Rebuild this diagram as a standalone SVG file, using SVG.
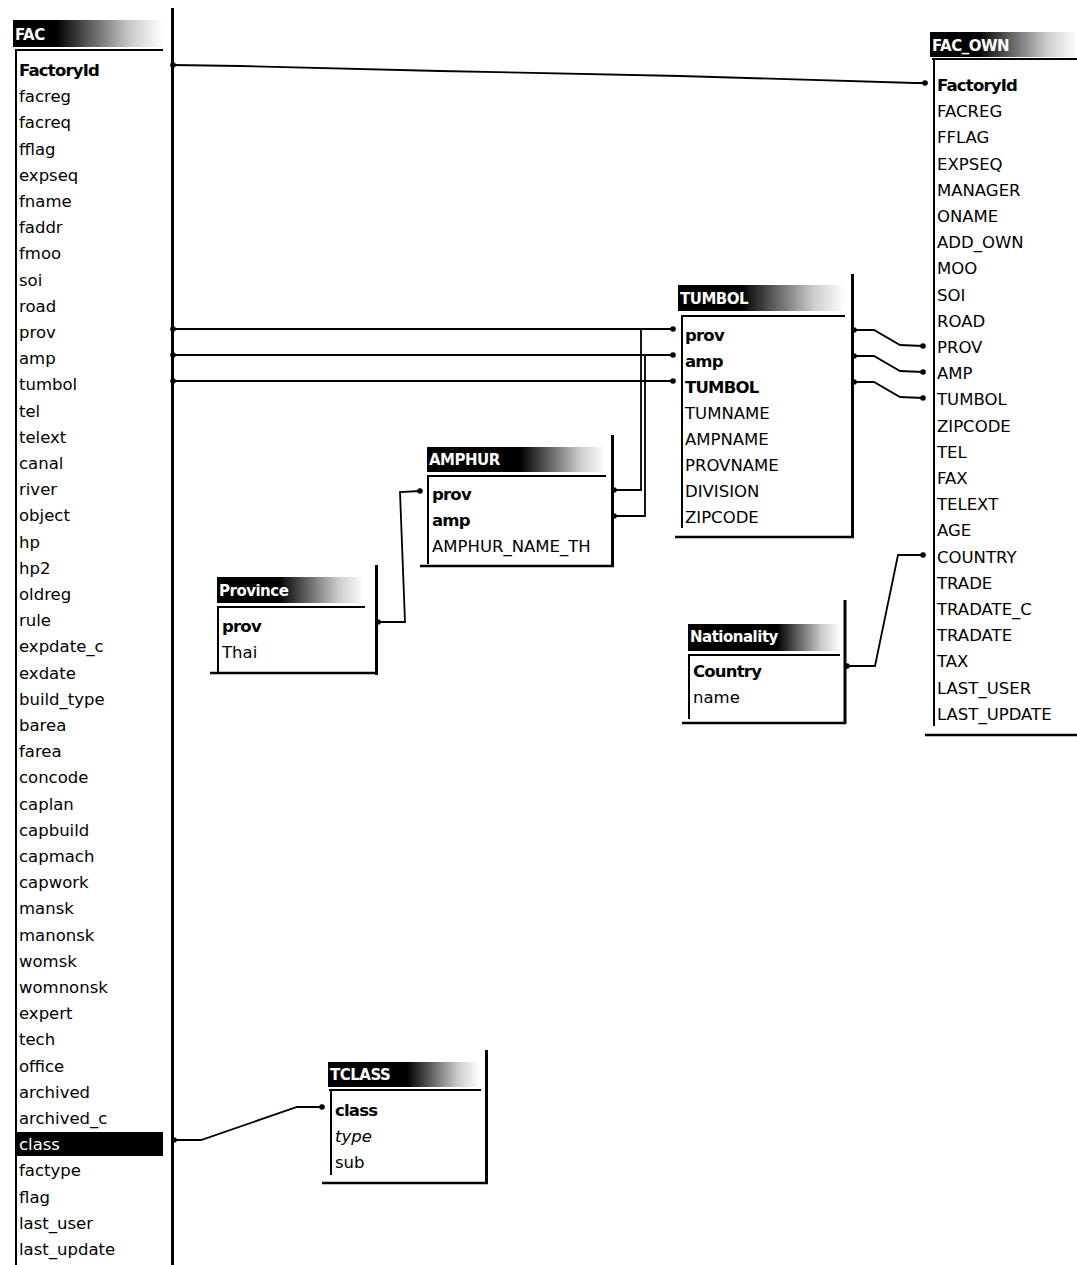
<svg xmlns="http://www.w3.org/2000/svg" width="1077" height="1265" viewBox="0 0 1077 1265">
<style>
.f{font-family:"DejaVu Sans","Liberation Sans",sans-serif;font-size:16.5px;fill:#000}
.b{font-weight:bold;letter-spacing:-0.8px}
.h{font-family:"DejaVu Sans","Liberation Sans",sans-serif;font-size:15px;font-weight:bold;fill:#fff;letter-spacing:-0.5px}
.bd{stroke:#000;fill:none}
.c{stroke:#000;stroke-width:1.8;fill:none}
</style>
<defs>
<linearGradient id="fade" x1="0" y1="0" x2="1" y2="0">
<stop offset="0" stop-color="#000"/>
<stop offset="0.35" stop-color="#666"/>
<stop offset="0.7" stop-color="#ccc"/>
<stop offset="1" stop-color="#fff"/>
</linearGradient>
<marker id="dot" markerWidth="8" markerHeight="8" refX="4" refY="4" markerUnits="userSpaceOnUse">
<circle cx="4" cy="4" r="2.8" fill="#000"/>
</marker>
</defs>
<rect width="1077" height="1265" fill="#fff"/>

<g id="connectors">
<polyline class="c" points="173,65 240,66 440,71 680,76 915,83 925,83" marker-start="url(#dot)" marker-end="url(#dot)"/>
<polyline class="c" points="173,329 673,329" marker-start="url(#dot)" marker-end="url(#dot)"/>
<polyline class="c" points="173,355 673,355" marker-start="url(#dot)" marker-end="url(#dot)"/>
<polyline class="c" points="173,381 673,381" marker-start="url(#dot)" marker-end="url(#dot)"/>
<polyline class="c" points="614,490 641,490 641,329" marker-start="url(#dot)"/>
<polyline class="c" points="614,516 645,516 645,355" marker-start="url(#dot)"/>
<polyline class="c" points="378,622 405,622 400,492 420,491" marker-start="url(#dot)" marker-end="url(#dot)"/>
<polyline class="c" points="854,330 874,330 900,345 923,346" marker-start="url(#dot)" marker-end="url(#dot)"/>
<polyline class="c" points="854,356 874,356 900,371 923,372" marker-start="url(#dot)" marker-end="url(#dot)"/>
<polyline class="c" points="854,382 874,382 900,397 923,398" marker-start="url(#dot)" marker-end="url(#dot)"/>
<polyline class="c" points="847,666 875,666 898,555 923,555" marker-start="url(#dot)" marker-end="url(#dot)"/>
<polyline class="c" points="174,1140 201,1140 297,1107 322,1107" marker-start="url(#dot)" marker-end="url(#dot)"/>
</g>

<g id="FAC">
<rect x="13" y="20" width="44" height="27" fill="#000"/>
<rect x="56" y="20" width="107" height="27" fill="url(#fade)"/>
<text class="h" x="15" y="40">FAC</text>
<line class="bd" x1="15" y1="50" x2="163" y2="50" stroke-width="2"/>
<line class="bd" x1="16" y1="50" x2="16" y2="1265" stroke-width="2"/>
<line class="bd" x1="172.5" y1="8" x2="172.5" y2="1265" stroke-width="3"/>
<rect x="17" y="1132" width="146" height="24" fill="#000"/>
<text class="f b" x="19" y="76">FactoryId</text>
<text class="f" x="19" y="102.2">facreg</text>
<text class="f" x="19" y="128.4">facreq</text>
<text class="f" x="19" y="154.6">fflag</text>
<text class="f" x="19" y="180.8">expseq</text>
<text class="f" x="19" y="207">fname</text>
<text class="f" x="19" y="233.2">faddr</text>
<text class="f" x="19" y="259.4">fmoo</text>
<text class="f" x="19" y="285.6">soi</text>
<text class="f" x="19" y="311.8">road</text>
<text class="f" x="19" y="338">prov</text>
<text class="f" x="19" y="364.2">amp</text>
<text class="f" x="19" y="390.4">tumbol</text>
<text class="f" x="19" y="416.6">tel</text>
<text class="f" x="19" y="442.8">telext</text>
<text class="f" x="19" y="469">canal</text>
<text class="f" x="19" y="495.2">river</text>
<text class="f" x="19" y="521.4">object</text>
<text class="f" x="19" y="547.6">hp</text>
<text class="f" x="19" y="573.8">hp2</text>
<text class="f" x="19" y="600">oldreg</text>
<text class="f" x="19" y="626.2">rule</text>
<text class="f" x="19" y="652.4">expdate_c</text>
<text class="f" x="19" y="678.6">exdate</text>
<text class="f" x="19" y="704.8">build_type</text>
<text class="f" x="19" y="731">barea</text>
<text class="f" x="19" y="757.2">farea</text>
<text class="f" x="19" y="783.4">concode</text>
<text class="f" x="19" y="809.6">caplan</text>
<text class="f" x="19" y="835.8">capbuild</text>
<text class="f" x="19" y="862">capmach</text>
<text class="f" x="19" y="888.2">capwork</text>
<text class="f" x="19" y="914.4">mansk</text>
<text class="f" x="19" y="940.6">manonsk</text>
<text class="f" x="19" y="966.8">womsk</text>
<text class="f" x="19" y="993">womnonsk</text>
<text class="f" x="19" y="1019.2">expert</text>
<text class="f" x="19" y="1045.4">tech</text>
<text class="f" x="19" y="1071.6">office</text>
<text class="f" x="19" y="1097.8">archived</text>
<text class="f" x="19" y="1124">archived_c</text>
<text class="f" x="19" y="1150.2" style="fill:#fff">class</text>
<text class="f" x="19" y="1176.4">factype</text>
<text class="f" x="19" y="1202.6">flag</text>
<text class="f" x="19" y="1228.8">last_user</text>
<text class="f" x="19" y="1255">last_update</text>
</g>

<g id="FAC_OWN">
<rect x="930" y="32" width="48" height="25" fill="#000"/>
<rect x="977" y="32" width="100" height="25" fill="url(#fade)"/>
<text class="h" x="932" y="51">FAC_OWN</text>
<line class="bd" x1="932" y1="59" x2="1077" y2="59" stroke-width="2"/>
<line class="bd" x1="934" y1="59" x2="934" y2="726" stroke-width="2"/>
<line class="bd" x1="925" y1="735" x2="1077" y2="735" stroke-width="2.5"/>
<text class="f b" x="937" y="91">FactoryId</text>
<text class="f" x="937" y="117.2">FACREG</text>
<text class="f" x="937" y="143.4">FFLAG</text>
<text class="f" x="937" y="169.6">EXPSEQ</text>
<text class="f" x="937" y="195.8">MANAGER</text>
<text class="f" x="937" y="222">ONAME</text>
<text class="f" x="937" y="248.2">ADD_OWN</text>
<text class="f" x="937" y="274.4">MOO</text>
<text class="f" x="937" y="300.6">SOI</text>
<text class="f" x="937" y="326.8">ROAD</text>
<text class="f" x="937" y="353">PROV</text>
<text class="f" x="937" y="379.2">AMP</text>
<text class="f" x="937" y="405.4">TUMBOL</text>
<text class="f" x="937" y="431.6">ZIPCODE</text>
<text class="f" x="937" y="457.8">TEL</text>
<text class="f" x="937" y="484">FAX</text>
<text class="f" x="937" y="510.2">TELEXT</text>
<text class="f" x="937" y="536.4">AGE</text>
<text class="f" x="937" y="562.6">COUNTRY</text>
<text class="f" x="937" y="588.8">TRADE</text>
<text class="f" x="937" y="615">TRADATE_C</text>
<text class="f" x="937" y="641.2">TRADATE</text>
<text class="f" x="937" y="667.4">TAX</text>
<text class="f" x="937" y="693.6">LAST_USER</text>
<text class="f" x="937" y="719.8">LAST_UPDATE</text>
</g>

<g id="TUMBOL">
<rect x="678" y="285" width="64" height="26" fill="#000"/>
<rect x="741" y="285" width="104" height="26" fill="url(#fade)"/>
<text class="h" x="680" y="304">TUMBOL</text>
<line class="bd" x1="681" y1="316" x2="845" y2="316" stroke-width="2"/>
<line class="bd" x1="682" y1="316" x2="682" y2="528" stroke-width="2"/>
<line class="bd" x1="852.5" y1="274" x2="852.5" y2="538" stroke-width="3"/>
<line class="bd" x1="675" y1="537" x2="854" y2="537" stroke-width="2.5"/>
<text class="f b" x="685" y="341">prov</text>
<text class="f b" x="685" y="367">amp</text>
<text class="f b" x="685" y="393">TUMBOL</text>
<text class="f" x="685" y="419">TUMNAME</text>
<text class="f" x="685" y="445">AMPNAME</text>
<text class="f" x="685" y="471">PROVNAME</text>
<text class="f" x="685" y="497">DIVISION</text>
<text class="f" x="685" y="523">ZIPCODE</text>
</g>

<g id="AMPHUR">
<rect x="427" y="447" width="94" height="25" fill="#000"/>
<rect x="520" y="447" width="86" height="25" fill="url(#fade)"/>
<text class="h" x="429" y="465">AMPHUR</text>
<line class="bd" x1="427" y1="476" x2="606" y2="476" stroke-width="2"/>
<line class="bd" x1="428" y1="476" x2="428" y2="564" stroke-width="2"/>
<line class="bd" x1="612.5" y1="435" x2="612.5" y2="567" stroke-width="3"/>
<line class="bd" x1="420" y1="566" x2="614" y2="566" stroke-width="2.5"/>
<text class="f b" x="432" y="500">prov</text>
<text class="f b" x="432" y="526">amp</text>
<text class="f" x="432" y="552">AMPHUR_NAME_TH</text>
</g>

<g id="Province">
<rect x="217" y="577" width="62" height="26" fill="#000"/>
<rect x="278" y="577" width="86" height="26" fill="url(#fade)"/>
<text class="h" x="219" y="596">Province</text>
<line class="bd" x1="217" y1="607" x2="365" y2="607" stroke-width="2"/>
<line class="bd" x1="218" y1="607" x2="218" y2="673" stroke-width="2"/>
<line class="bd" x1="376.5" y1="565" x2="376.5" y2="675" stroke-width="3"/>
<line class="bd" x1="210" y1="673" x2="378" y2="673" stroke-width="2.5"/>
<text class="f b" x="222" y="632">prov</text>
<text class="f" x="222" y="658">Thai</text>
</g>

<g id="Nationality">
<rect x="688" y="624" width="90" height="27" fill="#000"/>
<rect x="777" y="624" width="64" height="27" fill="url(#fade)"/>
<text class="h" x="690" y="642">Nationality</text>
<line class="bd" x1="688" y1="655" x2="840" y2="655" stroke-width="2"/>
<line class="bd" x1="689" y1="655" x2="689" y2="719" stroke-width="2"/>
<line class="bd" x1="845" y1="600" x2="845" y2="724" stroke-width="3"/>
<line class="bd" x1="682" y1="723" x2="846" y2="723" stroke-width="2.5"/>
<text class="f b" x="693" y="677">Country</text>
<text class="f" x="693" y="703">name</text>
</g>

<g id="TCLASS">
<rect x="328" y="1062" width="80" height="25" fill="#000"/>
<rect x="407" y="1062" width="73" height="25" fill="url(#fade)"/>
<text class="h" x="330" y="1080">TCLASS</text>
<line class="bd" x1="329" y1="1090" x2="481" y2="1090" stroke-width="2"/>
<line class="bd" x1="331" y1="1090" x2="331" y2="1175" stroke-width="2"/>
<line class="bd" x1="486.5" y1="1050" x2="486.5" y2="1184" stroke-width="3"/>
<line class="bd" x1="322" y1="1183" x2="488" y2="1183" stroke-width="2.5"/>
<text class="f b" x="335" y="1116">class</text>
<text class="f" x="335" y="1142" font-style="italic">type</text>
<text class="f" x="335" y="1168">sub</text>
</g>
</svg>
